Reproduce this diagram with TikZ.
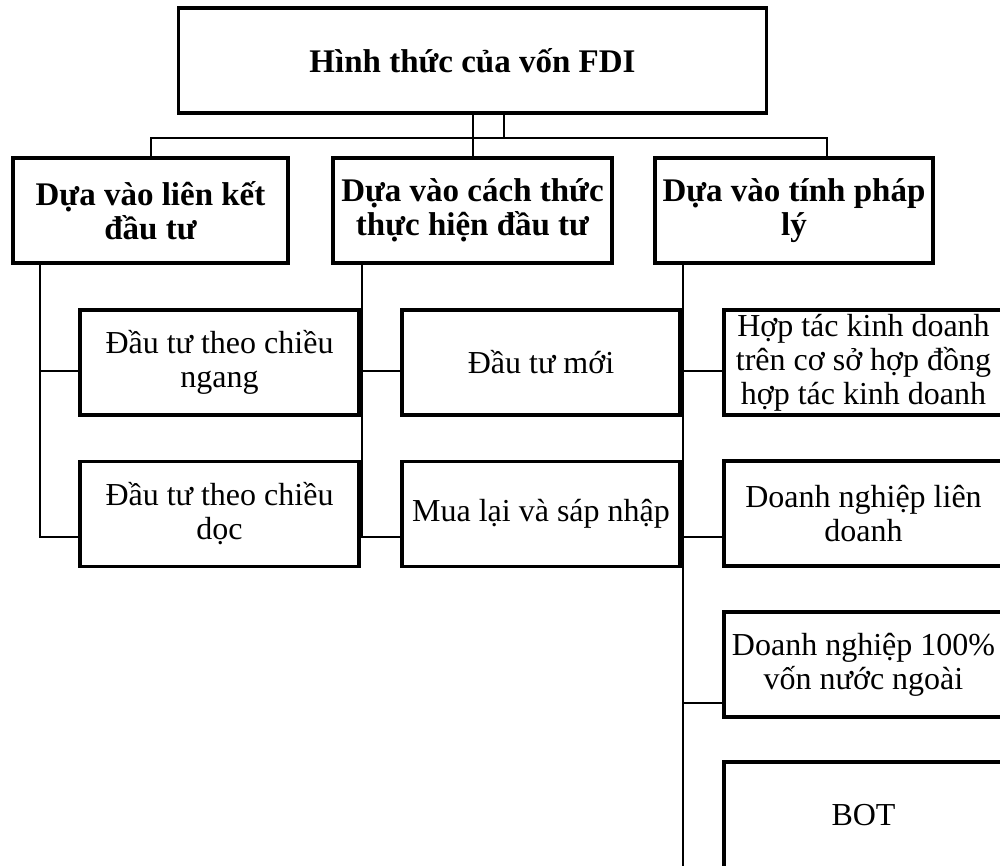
\documentclass[tikz,border=0pt]{standalone}
\usepackage{fontspec}
\setmainfont{Liberation Serif}
\usetikzlibrary{positioning}

\begin{document}
\begin{tikzpicture}[x=1pt,y=-1pt,
  box/.style={draw=black, line width=3.5pt, inner sep=0pt, align=center,
    minimum width=279pt, minimum height=105pt, font=\fontsize{32}{34}\selectfont},
  headbox/.style={box, font=\fontsize{33}{34}\selectfont\bfseries},
  link/.style={draw=black, line width=2pt}]
\useasboundingbox (0,0) rectangle (1000,866);
\clip (0,0) rectangle (1000,866);

\node[headbox, minimum width=588pt] (top) at (472.5,60.5) {Hình thức của vốn FDI};

\node[headbox, minimum width=275pt] (A) at (150.5,210.5) {Dựa vào liên kết\\đầu tư};
\node[headbox] (B) at (472.5,210.5) {Dựa vào cách thức\\thực hiện đầu tư};
\node[headbox, minimum width=278pt] (C) at (794,210.5) {Dựa vào tính pháp\\lý};

\node[box] (L1) at (219.5,362.5) {Đầu tư theo chiều\\ngang};
\node[box] (L2) at (219.5,514) {Đầu tư theo chiều\\dọc};

\node[box, minimum width=278pt] (M1) at (541,362.5) {Đầu tư mới};
\node[box, minimum width=278pt] (M2) at (541,514) {Mua lại và sáp nhập};

\node[box] (R1) at (863.5,362.5) {Hợp tác kinh doanh\\trên cơ sở hợp đồng\\hợp tác kinh doanh};
\node[box] (R2) at (863.5,513.5) {Doanh nghiệp liên\\doanh};
\node[box] (R3) at (863.5,664.5) {Doanh nghiệp 100\%\\vốn nước ngoài};
\node[box, minimum height=107pt] (R4) at (863.5,815.5) {BOT};

% top level
\coordinate (bus) at (0,138);
\draw[link] (top.south) -- (B.north);
\draw[link] ([xshift=31pt]top.south) -- ([xshift=31pt]top.south |- bus);
\draw[link] (A.north) -- (A.north |- bus) -- ([xshift=33pt]C.north |- bus) -- ([xshift=33pt]C.north);

% branches
\draw[link] ([xshift=-110.5pt]A.south) |- ([yshift=-8.5pt]L1.west);
\draw[link] ([xshift=-110.5pt]A.south) |- ([yshift=-23pt]L2.west);

\draw[link] ([xshift=-110.5pt]B.south) |- ([yshift=-8.5pt]M1.west);
\draw[link] ([xshift=-110.5pt]B.south) |- ([yshift=-23pt]M2.west);

\draw[link] ([xshift=-111pt]C.south) -- ++(0,640);
\draw[link] ([xshift=-111pt]C.south) |- ([yshift=-8.5pt]R1.west);
\draw[link] ([xshift=-111pt]C.south) |- ([yshift=-23.5pt]R2.west);
\draw[link] ([xshift=-111pt]C.south) |- ([yshift=-38.5pt]R3.west);
\end{tikzpicture}
\end{document}
